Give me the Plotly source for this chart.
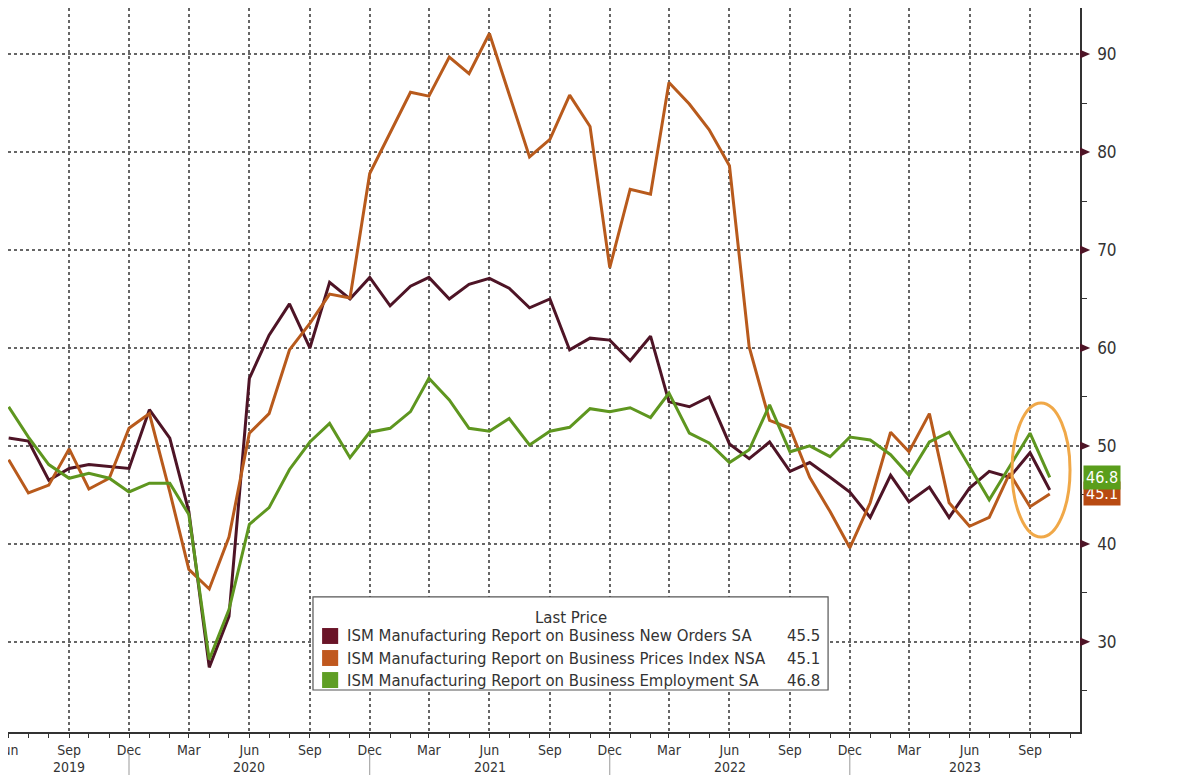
import pandas as pd
import plotly.graph_objects as go

# monthly readings, Jun 2019 .. Oct 2023
months = pd.date_range("2019-06-01", "2023-10-01", freq="MS")

new_orders = [50.8, 50.5, 46.5, 47.7, 48.1, 47.9, 47.7,
              53.7, 50.8, 43.3, 27.4, 32.6, 56.9, 61.3, 64.5, 60.0, 66.7, 65.0, 67.2,
              64.3, 66.3, 67.2, 65.0, 66.5, 67.1, 66.1, 64.1, 65.0, 59.8, 61.0, 60.8,
              58.7, 61.2, 54.5, 54.0, 55.0, 50.2, 48.7, 50.4, 47.4, 48.3, 46.8, 45.3,
              42.7, 47.0, 44.3, 45.8, 42.7, 45.7, 47.4, 46.8, 49.3, 45.5]
prices = [48.6, 45.2, 46.0, 49.7, 45.6, 46.7, 51.8,
          53.3, 45.3, 37.4, 35.4, 40.7, 51.3, 53.3, 59.8, 62.5, 65.5, 65.1, 77.8,
          81.9, 86.1, 85.7, 89.7, 88.0, 92.1, 85.9, 79.5, 81.3, 85.8, 82.6, 68.2,
          76.2, 75.7, 87.1, 84.9, 82.3, 78.6, 60.1, 52.6, 51.8, 46.8, 43.3, 39.6,
          44.2, 51.4, 49.4, 53.3, 44.2, 41.8, 42.7, 47.2, 43.8, 45.1]
employment = [54.0, 50.9, 48.1, 46.7, 47.2, 46.7, 45.3,
              46.2, 46.2, 43.0, 28.2, 33.3, 42.0, 43.7, 47.6, 50.4, 52.3, 48.8, 51.4,
              51.8, 53.5, 56.9, 54.7, 51.8, 51.5, 52.8, 50.1, 51.5, 51.9, 53.8, 53.5,
              53.9, 52.9, 55.4, 51.3, 50.3, 48.3, 49.6, 54.2, 49.4, 50.0, 48.9, 50.9,
              50.6, 49.1, 47.0, 50.4, 51.4, 47.9, 44.5, 47.9, 51.3, 46.8]

names = ["ISM Manufacturing Report on Business New Orders SA",
         "ISM Manufacturing Report on Business Prices Index NSA",
         "ISM Manufacturing Report on Business Employment SA"]
last_price = [45.5, 45.1, 46.8]
line_colors = ["#4e1426", "#b85a1c", "#5e961f"]
swatch_colors = ["#6a1428", "#c0581e", "#5f9e24"]
tag_colors = ["#6a1428", "#b84a12", "#5a9e1c"]

quarter_ticks = pd.date_range("2019-06-01", "2023-09-01", freq="3MS")
quarter_labels = [d.strftime("%b") for d in quarter_ticks]
years = [2019, 2020, 2021, 2022, 2023]
y_ticks = [30, 40, 50, 60, 70, 80, 90]

x_start = pd.Timestamp("2019-05-31")
x_end = pd.Timestamp("2023-11-16")

font = "DejaVu Sans Condensed, DejaVu Sans, sans-serif"

fig = go.Figure()
for vals, name, col in zip([new_orders, prices, employment], names, line_colors):
    fig.add_trace(go.Scatter(x=months, y=vals, name=name, mode="lines",
                             line=dict(color=col, width=3), showlegend=False))

# page body has an 8px margin, so the figure is a little smaller than the window
fig.update_layout(
    width=1192, height=767,
    margin=dict(l=0, r=120, t=0, b=43),
    plot_bgcolor="white", paper_bgcolor="white",
    font=dict(family=font, color="#333333", size=16),
    xaxis=dict(range=[x_start, x_end], tickvals=quarter_ticks, ticktext=quarter_labels,
               showgrid=True, gridcolor="#666666", griddash="dot", gridwidth=1.5,
               showline=True, linecolor="#333333", linewidth=1.5,
               ticks="outside", ticklen=4, tickcolor="#333333",
               tickfont=dict(size=14), ticklabelstandoff=0,
               ticklabeloverflow="allow", automargin=False,
               minor=dict(dtick="M1", tick0="2019-06-01", ticks="outside", ticklen=4,
                          tickcolor="#333333", showgrid=False)),
    yaxis=dict(side="right", range=[20.8, 94.7], tickvals=y_ticks,
               showgrid=True, gridcolor="#666666", griddash="dot", gridwidth=1.5,
               showline=True, linecolor="#333333", linewidth=1.5,
               ticks="", ticklabelstandoff=12, zeroline=False, automargin=False,
               tickfont=dict(size=17),
               minor=dict(dtick=5, ticks="outside", ticklen=5, tickcolor="#333333",
                          showgrid=False)),
)

# arrow markers on the value axis
for v in y_ticks:
    fig.add_shape(type="path", xref="paper", yref="y", layer="above",
                  path=f"M 1,{v + 0.45} L 1.0095,{v} L 1,{v - 0.45} Z",
                  fillcolor="#4e1426", line=dict(width=0))

# year labels and separators
for y in years:
    lo = max(pd.Timestamp(f"{y - 1}-12-01"), x_start)
    hi = min(pd.Timestamp(f"{y}-12-01"), x_end)
    fig.add_annotation(x=lo + (hi - lo) / 2, y=-0.049, xref="x", yref="paper",
                       text=str(y), showarrow=False, yanchor="middle",
                       font=dict(size=14, color="#333333"))
    if pd.Timestamp(f"{y}-12-01") < x_end:
        fig.add_shape(type="line", xref="x", yref="paper",
                      x0=pd.Timestamp(f"{y}-12-01"), x1=pd.Timestamp(f"{y}-12-01"),
                      y0=-0.029, y1=-0.062, line=dict(color="#999999", width=1))

# highlight around the latest readings
fig.add_shape(type="circle", xref="paper", yref="paper",
              x0=0.9366, x1=0.9907, y0=0.2693, y1=0.4544,
              line=dict(color="#f0a848", width=3))

# last value tags (orange under green)
for idx in [1, 2]:
    fig.add_annotation(x=1.003, y=last_price[idx], xref="paper", yref="y",
                       text=f"{last_price[idx]}", showarrow=False, xanchor="left",
                       yanchor="middle", bgcolor=tag_colors[idx], borderpad=2,
                       font=dict(color="white", size=16))

# legend box
bx0, bx1, by0, by1 = 0.2845, 0.765, 0.058, 0.1865
fig.add_shape(type="rect", xref="paper", yref="paper", x0=bx0, x1=bx1, y0=by0, y1=by1,
              fillcolor="white", line=dict(color="#555555", width=1.2), layer="above")
fig.add_annotation(x=(bx0 + bx1) / 2, y=0.1575, xref="paper", yref="paper",
                   text="Last Price", showarrow=False, yanchor="middle",
                   font=dict(size=16.6))
for k in range(3):
    yy = 0.1326 - k * 0.0304
    fig.add_shape(type="rect", xref="paper", yref="paper", layer="above",
                  x0=0.293, x1=0.308, y0=yy - 0.011, y1=yy + 0.011,
                  fillcolor=swatch_colors[k], line=dict(width=0))
    fig.add_annotation(x=0.3144, y=yy, xref="paper", yref="paper", text=names[k],
                       showarrow=False, xanchor="left", yanchor="middle",
                       font=dict(size=16.6))
    fig.add_annotation(x=0.7593, y=yy, xref="paper", yref="paper", text=f"{last_price[k]}",
                       showarrow=False, xanchor="right", yanchor="middle",
                       font=dict(size=16.6))

fig.write_html("out.html")
